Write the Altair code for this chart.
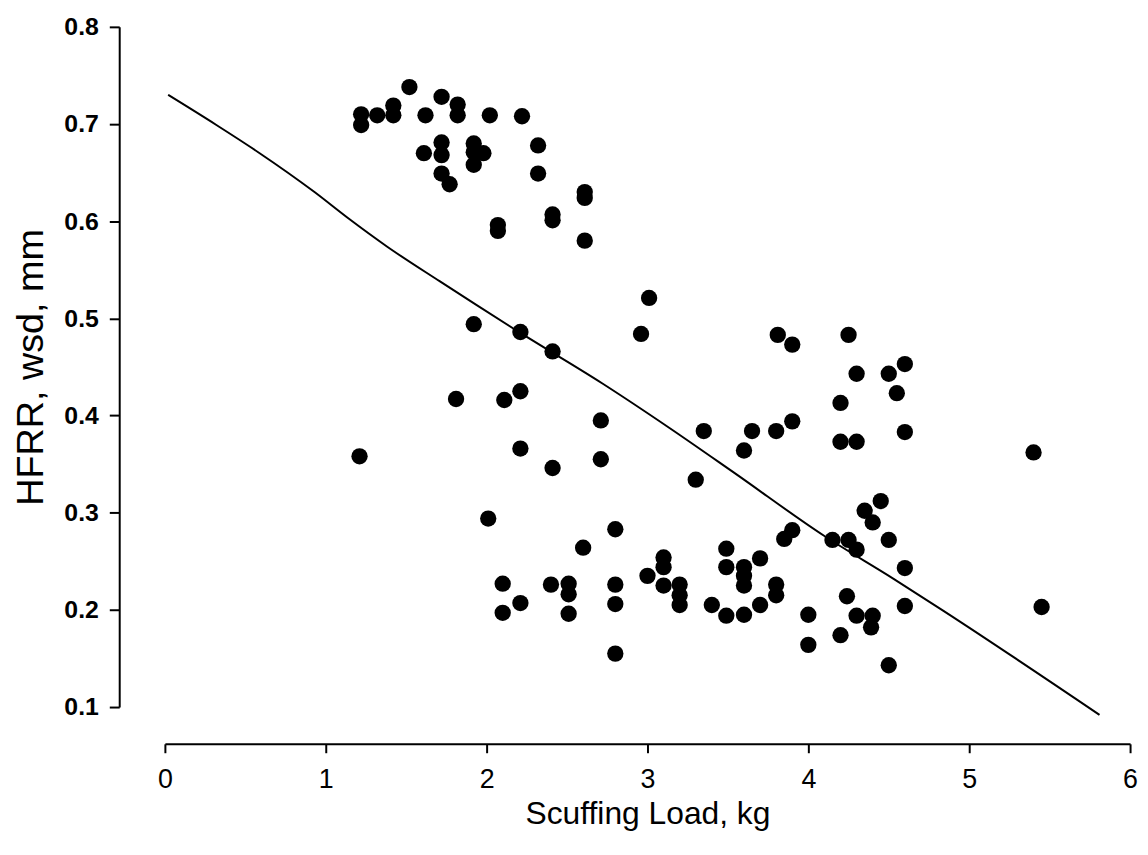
import altair as alt
import pandas as pd

# Scatter data: scuffing load (kg) vs HFRR wear scar diameter (mm)
load = [1.52, 1.72, 1.82, 1.82, 1.22, 1.22, 1.32, 1.42, 1.42, 1.62,
        2.02, 2.22, 1.72, 1.72, 1.61, 1.92, 1.92, 1.98, 1.92, 1.72,
        1.77, 2.32, 2.32, 2.61, 2.61, 2.61, 2.41, 2.41, 2.07, 2.07,
        3.01, 1.92, 2.21, 2.96, 2.41, 1.81, 2.11, 2.21, 2.71, 3.35,
        1.21, 2.21, 2.71, 2.41, 3.30, 2.01, 2.80, 2.60, 3.10, 3.10,
        3.00, 3.10, 3.20, 3.20, 3.20, 3.40, 3.49, 3.49, 3.49, 2.10,
        2.10, 2.21, 2.40, 2.51, 2.51, 2.51, 2.80, 2.80, 2.80, 3.81,
        3.90, 4.25, 4.30, 4.60, 4.50, 4.55, 4.20, 4.60, 4.20, 4.30,
        3.65, 3.80, 3.90, 3.60, 5.40, 4.45, 4.35, 4.40, 3.90, 3.85,
        4.15, 4.25, 4.30, 4.50, 4.60, 3.70, 3.60, 3.60, 3.60, 3.80,
        3.80, 3.60, 3.70, 4.00, 4.00, 4.24, 4.30, 4.40, 4.39, 4.20,
        4.50, 4.60, 5.45]
hfrr = [0.738, 0.728, 0.720, 0.709, 0.710, 0.699, 0.709, 0.719, 0.709, 0.709,
        0.709, 0.708, 0.681, 0.668, 0.670, 0.680, 0.671, 0.670, 0.658, 0.649,
        0.638, 0.678, 0.649, 0.630, 0.624, 0.580, 0.607, 0.601, 0.596, 0.590,
        0.521, 0.494, 0.486, 0.484, 0.466, 0.417, 0.416, 0.425, 0.395, 0.384,
        0.358, 0.366, 0.355, 0.346, 0.334, 0.294, 0.283, 0.264, 0.254, 0.244,
        0.235, 0.225, 0.226, 0.215, 0.205, 0.205, 0.263, 0.244, 0.194, 0.227,
        0.197, 0.207, 0.226, 0.227, 0.216, 0.196, 0.226, 0.206, 0.155, 0.483,
        0.473, 0.483, 0.443, 0.453, 0.443, 0.423, 0.413, 0.383, 0.373, 0.373,
        0.384, 0.384, 0.394, 0.364, 0.362, 0.312, 0.302, 0.290, 0.282, 0.273,
        0.272, 0.272, 0.262, 0.272, 0.243, 0.253, 0.244, 0.235, 0.225, 0.226,
        0.215, 0.195, 0.205, 0.195, 0.164, 0.214, 0.194, 0.194, 0.182, 0.174,
        0.143, 0.204, 0.203]

# Fitted (smoothed) curve
fit_load = [0.02, 0.32, 0.58, 0.93, 1.14, 1.38, 1.71, 2.21, 2.72, 3.13,
            3.54, 4.10, 4.53, 4.84, 5.81]
fit_hfrr = [0.730, 0.699, 0.671, 0.630, 0.603, 0.574, 0.538, 0.485, 0.433, 0.388,
            0.341, 0.276, 0.232, 0.199, 0.092]

x_ticks = [0, 1, 2, 3, 4, 5, 6]
y_ticks = [0.1, 0.2, 0.3, 0.4, 0.5, 0.6, 0.7, 0.8]

pts = pd.DataFrame({"load": load, "hfrr": hfrr})
fit = pd.DataFrame({"load": fit_load, "hfrr": fit_hfrr})

FONT = "Liberation Sans, Arial, Helvetica"

x_enc = alt.X(
    "load:Q",
    scale=alt.Scale(domain=[0, 6], nice=False, zero=False),
    axis=alt.Axis(
        title="Scuffing Load, kg", values=x_ticks, format="d", offset=37,
        grid=False, domainColor="black", domainWidth=2, tickColor="black",
        tickWidth=2, tickSize=9, labelFont=FONT, labelFontSize=27,
        labelFontWeight="normal", labelColor="black", labelPadding=14,
        labelFlush=False, labelOverlap=False, titleFont=FONT,
        titleFontSize=32, titleFontWeight="normal", titleColor="black",
        titlePadding=6,
    ),
)
y_enc = alt.Y(
    "hfrr:Q",
    scale=alt.Scale(domain=[0.1, 0.8], nice=False, zero=False),
    axis=alt.Axis(
        title="HFRR, wsd, mm", values=y_ticks, format=".1f", offset=46,
        grid=False, domainColor="black", domainWidth=2, tickColor="black",
        tickWidth=2, tickSize=10, labelFont=FONT, labelFontSize=25,
        labelFontWeight="bold", labelColor="black", labelPadding=11,
        labelFlush=False, labelOverlap=False, titleFont=FONT,
        titleFontSize=38, titleFontWeight="normal", titleColor="black",
        titlePadding=14,
    ),
)

line = alt.Chart(fit).mark_line(
    color="black", strokeWidth=2, interpolate="monotone"
).encode(x=x_enc, y=y_enc)
points = alt.Chart(pts).mark_circle(size=270, color="black", opacity=1).encode(
    x=alt.X("load:Q"), y=alt.Y("hfrr:Q")
)

chart = (
    alt.layer(line, points)
    .properties(
        width=972,
        height=685,
        autosize=alt.AutoSizeParams(type="none"),
        padding={"left": 158, "top": 16, "right": 10, "bottom": 146},
        background="white",
    )
    .configure_view(stroke=None)
)

chart.save("out.html", embed_options={"renderer": "svg", "actions": False})
